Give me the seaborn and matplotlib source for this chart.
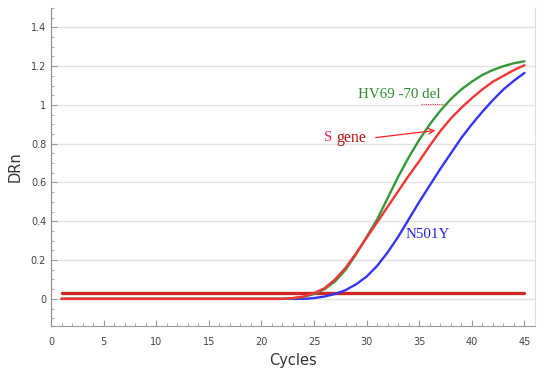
import numpy as np
import pandas as pd
import seaborn as sns
import matplotlib.pyplot as plt
from matplotlib.ticker import MultipleLocator, FuncFormatter

cycles = list(range(1, 46))

# amplification curves (cycles 1..45)
hv69_del = [0.0] * 22 + [0.003, 0.01, 0.025, 0.05, 0.09, 0.15, 0.23, 0.32, 0.41, 0.52,
                         0.63, 0.73, 0.82, 0.90, 0.97, 1.03, 1.08, 1.12, 1.155, 1.18,
                         1.20, 1.215, 1.225]
s_gene = [0.0] * 22 + [0.004, 0.012, 0.03, 0.055, 0.10, 0.16, 0.235, 0.315, 0.395, 0.475,
                       0.555, 0.635, 0.71, 0.79, 0.865, 0.93, 0.985, 1.035, 1.08, 1.12,
                       1.15, 1.18, 1.205]
n501y = [0.0] * 24 + [0.004, 0.012, 0.025, 0.045, 0.075, 0.115, 0.17, 0.24, 0.32, 0.41,
                      0.50, 0.585, 0.67, 0.75, 0.83, 0.90, 0.965, 1.025, 1.08, 1.125,
                      1.165]
threshold = 0.03

df = pd.DataFrame({
    "Cycles": cycles * 3,
    "DRn": n501y + hv69_del + s_gene,
    "target": ["N501Y"] * 45 + ["HV69 -70 del"] * 45 + ["S gene"] * 45,
})
palette = {"N501Y": "#3535f5", "HV69 -70 del": "#35993a", "S gene": "#f53535"}

sns.set_style("white")
fig = plt.figure(figsize=(5.45, 3.75), dpi=100)
ax = fig.add_axes([0.0936, 0.1307, 0.888, 0.848])

ax.plot([cycles[0], cycles[-1]], [threshold, threshold], color="#cf2626", lw=2.4, zorder=1)
sns.lineplot(data=df, x="Cycles", y="DRn", hue="target", palette=palette,
             hue_order=["N501Y", "HV69 -70 del", "S gene"], lw=1.7, legend=False, ax=ax)

ax.set_xlim(0, 46)
ax.set_ylim(-0.14, 1.5)
ax.xaxis.set_major_locator(MultipleLocator(5))
ax.xaxis.set_minor_locator(MultipleLocator(1))
ax.yaxis.set_major_locator(MultipleLocator(0.2))
ax.yaxis.set_minor_locator(MultipleLocator(0.05))
ax.yaxis.set_major_formatter(FuncFormatter(lambda v, p: f"{v:g}" if abs(v) > 1e-9 else "0"))
ax.tick_params(which="both", direction="in", bottom=True, left=True, colors="#999999",
               labelcolor="#444444", labelsize=7)
ax.tick_params(which="major", length=4)
ax.tick_params(which="minor", length=2)
ax.tick_params(axis="x", which="both", direction="in", pad=8)
ax.yaxis.grid(True, color="#e2e2e2", lw=1)
ax.set_axisbelow(True)
ax.spines["top"].set_visible(False)
ax.spines["left"].set_color("#8c8c8c")
ax.spines["bottom"].set_color("#999999")
ax.spines["right"].set_color("#dddddd")

ax.set_xlabel("Cycles", fontsize=10.5, color="#333333", labelpad=4)
ax.set_ylabel("DRn", fontsize=10.5, color="#333333", labelpad=6)

serif = ["Liberation Serif", "DejaVu Serif"]
ax.text(29.2, 1.055, "HV69 -70 del", color="#2e8b2e", fontsize=10.8, family=serif, va="center")
ax.plot([35.2, 37.4], [1.005, 1.005], color="#e03030", lw=0.8, ls=(0, (1, 1)))
ax.text(25.9, 0.83, "S", color="#ee2255", fontsize=10.8, family=serif, va="center")
ax.text(27.1, 0.83, "gene", color="#bb1111", fontsize=11.5, family=serif, va="center")
ax.annotate("", xy=(36.8, 0.87), xytext=(30.6, 0.83),
            arrowprops=dict(arrowstyle="->", color="#ff2222", lw=0.9))
ax.text(33.7, 0.33, "N501Y", color="#2222ee", fontsize=10.8, family=serif, va="center")

fig.savefig("out.png", dpi=100)
